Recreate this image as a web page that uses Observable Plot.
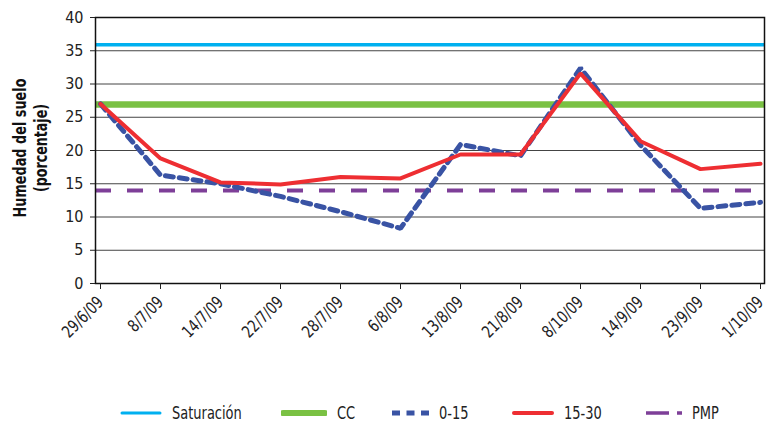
<!DOCTYPE html>
<html><head><meta charset="utf-8">
<script src="https://cdn.jsdelivr.net/npm/d3@7"></script>
<script src="https://cdn.jsdelivr.net/npm/@observablehq/plot@0.6"></script>
<style>
body{margin:0;background:#fff;}
#wrap{position:relative;width:773px;height:423px;font-family:"DejaVu Sans Condensed","Liberation Sans Narrow",sans-serif;color:#222;}
#legend{position:absolute;left:0;top:403px;width:773px;height:20px;font-size:17px;}
.li{position:absolute;top:0;display:flex;align-items:center;height:20px;}
.li span{margin-left:10px;display:inline-block;transform:scaleX(0.85);transform-origin:left center;}
</style></head><body><div id="wrap"><div id="legend"></div></div>
<script>
const fechas = ["29/6/09","8/7/09","14/7/09","22/7/09","28/7/09","6/8/09","13/8/09","21/8/09","8/10/09","14/9/09","23/9/09","1/10/09"];
const serie0_15 = [27.0,16.3,15.0,13.1,10.8,8.3,20.9,19.2,32.4,20.8,11.3,12.2];
const serie15_30 = [27.0,18.8,15.2,14.9,16.0,15.8,19.4,19.4,31.6,21.4,17.2,18.0];
const saturacion = 35.9;
const cc = 26.9;
const pmp = 14.0;
const yTicks = [0,5,10,15,20,25,30,35,40];
const leyenda = ["Saturación","CC","0-15","15-30","PMP"];
const leyendaX = [120,281,392,512,646];

const colors = {sat:"#00B0F0", cc:"#7AC143", b:"#3953A4", r:"#EE2E32", p:"#7E3F98"};
const rows0 = fechas.map((f,i)=>({f, v:serie0_15[i]}));
const rows1 = fechas.map((f,i)=>({f, v:serie15_30[i]}));

const plot = Plot.plot({
  width:773, height:380,
  marginLeft:95, marginRight:9, marginTop:17, marginBottom:97,
  style:{fontFamily:'"DejaVu Sans Condensed","Liberation Sans Narrow",sans-serif', fontSize:"16px", color:"#222", background:"#fff"},
  x:{type:"point", domain:fechas, padding:0, label:null},
  y:{domain:[0,40], label:null},
  marks:[
    Plot.ruleY(yTicks, {stroke:"#444", strokeWidth:1, strokeOpacity:1}),
    Plot.ruleY([saturacion], {stroke:colors.sat, strokeWidth:3.5}),
    Plot.ruleY([cc], {stroke:colors.cc, strokeWidth:6.5}),
    Plot.ruleY([pmp], {stroke:colors.p, strokeWidth:4, strokeDasharray:"16,16"}),
    Plot.line(rows0, {x:"f", y:"v", stroke:colors.b, strokeWidth:5, strokeDasharray:"8,6", strokeLinejoin:"miter"}),
    Plot.line(rows1, {x:"f", y:"v", stroke:colors.r, strokeWidth:4, strokeLinejoin:"miter"}),
    Plot.frame({stroke:"#111", strokeWidth:1.5}),
    Plot.axisY({ticks:yTicks, tickSize:5, tickPadding:7, fontSize:16, label:null}),
    Plot.axisX({tickSize:6, tickRotate:-45, tickPadding:10, fontSize:17, label:null})
  ]
});
document.getElementById("wrap").prepend(plot);

const svg = d3.select(plot);
// compress axis labels horizontally to mimic a condensed face
svg.selectAll("[aria-label='x-axis tick label'] text").each(function(){
  const tr = this.getAttribute("transform") || "";
  this.setAttribute("transform", tr + " scale(0.85,1)");
});
const t = svg.append("text")
  .attr("transform","translate(30,148) rotate(-90)")
  .attr("text-anchor","middle")
  .attr("font-weight","bold")
  .attr("font-size","18px")
  .attr("fill","#111");
t.append("tspan").attr("x",0).attr("dy","-0.25em").attr("textLength",139).attr("lengthAdjust","spacingAndGlyphs").text("Humedad del suelo");
t.append("tspan").attr("x",0).attr("dy","1.2em").attr("textLength",88).attr("lengthAdjust","spacingAndGlyphs").text("(porcentaje)");

const legendStyles = [
  {c:colors.sat, w:3, d:null, len:42},
  {c:colors.cc, w:6, d:null, len:46},
  {c:colors.b, w:5, d:"8,6.5", len:37},
  {c:colors.r, w:4, d:null, len:42},
  {c:colors.p, w:3.5, d:"23,8,5,40", len:36}
];
const lg = d3.select("#legend");
leyenda.forEach((name,i)=>{
  const st = legendStyles[i];
  const item = lg.append("div").attr("class","li").style("left", leyendaX[i]+"px");
  const s = item.append("svg").attr("width",st.len).attr("height",10);
  const l = s.append("line").attr("x1",st.d?0:2).attr("x2",st.d?st.len:st.len-2).attr("y1",5).attr("y2",5)
    .attr("stroke",st.c).attr("stroke-width",st.w).attr("stroke-linecap",st.d?"butt":"round");
  if (st.d) l.attr("stroke-dasharray",st.d);
  item.append("span").text(name);
});
</script>
</body></html>
